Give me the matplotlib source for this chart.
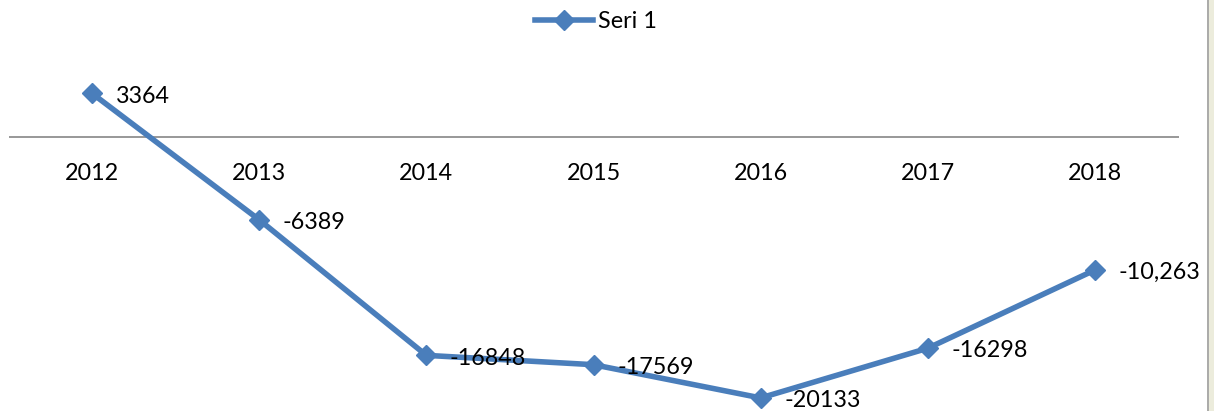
import matplotlib.pyplot as plt
import matplotlib.patches as mpatches

years = ['2012', '2013', '2014', '2015', '2016', '2017', '2018']
values = [3364, -6389, -16848, -17569, -20133, -16298, -10263]
labels = ['3364', '-6389', '-16848', '-17569', '-20133', '-16298', '-10,263']

blue = '#4A7EBB'
plt.rcParams['font.family'] = ['Lato', 'DejaVu Sans']

fig = plt.figure(figsize=(12.14, 4.11), dpi=100)
ax = fig.add_axes([8.5 / 1214, 0, 1170 / 1214, 1])
x = list(range(len(years)))

ax.plot(x, values, color=blue, lw=4, marker='D', ms=10.5, label='Seri 1')
for xi, v, lab in zip(x, values, labels):
    ax.annotate(lab, (xi, v), xytext=(17, -2), textcoords='offset points',
                ha='left', va='center', fontsize=16.8, color='black')

# zero axis line with category labels under it
ax.axhline(0, color='#868686', lw=1.2, zorder=0)
for xi, yr in zip(x, years):
    ax.annotate(yr, (xi, 0), xytext=(0, -26), textcoords='offset points',
                ha='center', va='center', fontsize=16.8)

ax.set_xlim(-0.5, len(years) - 0.5)
ax.set_ylim(-21142, 10571)
ax.axis('off')

fig.legend(loc='center', bbox_to_anchor=(596 / 1214, 1 - 22 / 411), frameon=False,
           fontsize=16.8, handlelength=2.5, handletextpad=0.2)

# window border at right edge
fig.patches.append(mpatches.Rectangle((1207 / 1214, 0), 7 / 1214, 1, transform=fig.transFigure,
                                      facecolor='#ECECDC', edgecolor='none'))
fig.lines.append(plt.Line2D([1207.5 / 1214] * 2, [0, 1], transform=fig.transFigure,
                            color='#A0A0A0', lw=1.2))

fig.savefig('out.png', dpi=100)
